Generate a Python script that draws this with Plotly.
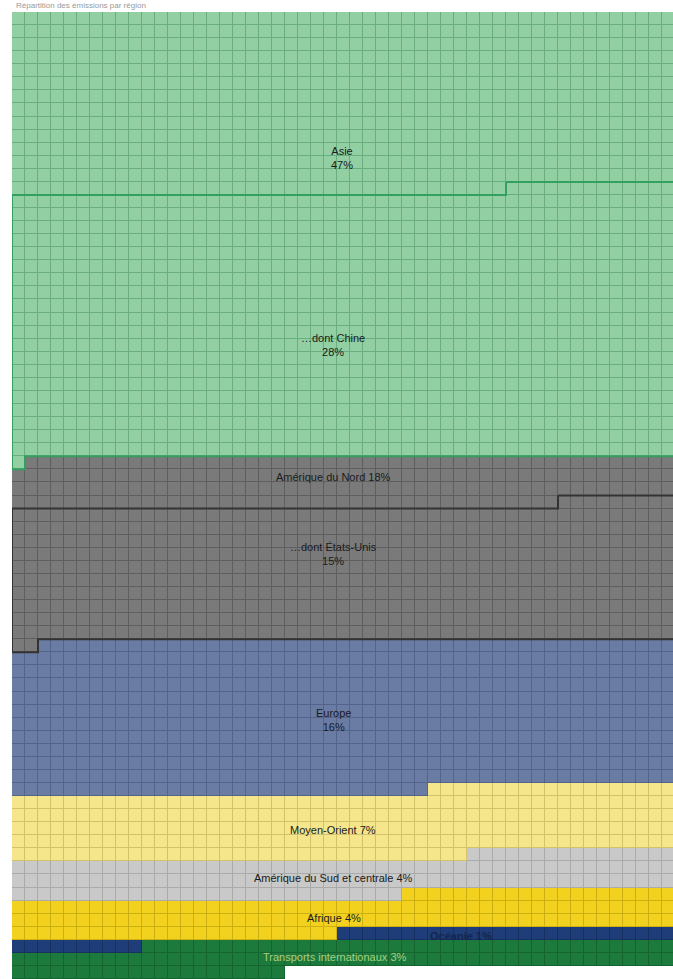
import numpy as np
import plotly.graph_objects as go

# ---------------- data (1 cell = one unit of emissions) ----------------
N_COLS = 51
N_ROWS = 74

regions = ["Asie", "Amérique du Nord", "Europe", "Moyen-Orient",
           "Amérique du Sud et centrale", "Afrique", "Océanie",
           "Transports internationaux"]
region_cells = [1735, 715, 591, 258, 148, 148, 36, 113]
region_shares = [47, 18, 16, 7, 4, 4, 1, 3]

subsets = ["Chine", "États-Unis"]
subset_parent = [0, 1]
subset_cells = [1034, 521]
subset_shares = [28, 15]

# ---------------- styles ----------------
fill_colors = ["#92cfa2", "#7a7a7a", "#6a7ca4", "#f5e68c", "#c9c9c9",
               "#f2d21e", "#1f3d78", "#1d7a3d", "#ffffff"]
grid_colors = ["#6aae7f", "#5e5e5e", "#53648b", "#d2c26c", "#aaaaaa",
               "#ccb012", "#17305f", "#15632f", "#ffffff"]
outline_colors = ["#34a060", "#333333"]

# ---------------- build cell matrix ----------------
EMPTY = len(regions)
flat = np.full(N_ROWS * N_COLS, EMPTY)
starts = np.concatenate([[0], np.cumsum(region_cells)[:-1]])
for i, (s, n) in enumerate(zip(starts, region_cells)):
    flat[s:s + n] = i
z = flat.reshape(N_ROWS, N_COLS)
xs = np.arange(N_COLS)
ys = np.arange(N_ROWS)


def discrete_scale(colors):
    n = len(colors)
    sc = []
    for i, c in enumerate(colors):
        sc.append([i / n, c])
        sc.append([(i + 1) / n, c])
    return sc


fig = go.Figure()
fig.add_trace(go.Heatmap(z=z, x=xs, y=ys, colorscale=discrete_scale(grid_colors),
                         zmin=-0.5, zmax=EMPTY + 0.5, showscale=False,
                         hoverinfo="skip"))
fig.add_trace(go.Heatmap(z=z, x=xs, y=ys, colorscale=discrete_scale(fill_colors),
                         zmin=-0.5, zmax=EMPTY + 0.5, showscale=False,
                         xgap=1, ygap=1, hoverinfo="skip"))


def range_outline(a, b):
    ra, ca = divmod(a, N_COLS)
    rb, cb = divmod(b, N_COLS)
    px = [ca - 0.5, N_COLS - 0.5, N_COLS - 0.5, cb - 0.5, cb - 0.5, -0.5, -0.5, ca - 0.5, ca - 0.5]
    py = [ra - 0.5, ra - 0.5, rb - 0.5, rb - 0.5, rb + 0.5, rb + 0.5, ra + 0.5, ra + 0.5, ra - 0.5]
    return px, py


for k, name in enumerate(subsets):
    p = subset_parent[k]
    end = starts[p] + region_cells[p]
    a = end - subset_cells[k]
    px, py = range_outline(int(a), int(end))
    fig.add_trace(go.Scatter(x=px, y=py, mode="lines",
                             line=dict(color=outline_colors[k], width=2),
                             hoverinfo="skip", showlegend=False))

# ---------------- labels ----------------
FONT = "Liberation Sans, Arial, sans-serif"
labels = [
    ("Asie<br>%d%%" % region_shares[0], 24.9, 10.7, "#1a1a1a"),
    ("…dont %s<br>%d%%" % (subsets[0], subset_shares[0]), 24.2, 25.0, "#1a1a1a"),
    ("%s %d%%" % (regions[1], region_shares[1]), 24.2, 35.1, "#1a1a1a"),
    ("…dont %s<br>%d%%" % (subsets[1], subset_shares[1]), 24.2, 41.0, "#1a1a1a"),
    ("%s<br>%d%%" % (regions[2], region_shares[2]), 24.2, 53.7, "#1a1a1a"),
    ("%s %d%%" % (regions[3], region_shares[3]), 24.2, 62.1, "#1a1a1a"),
    ("%s %d%%" % (regions[4], region_shares[4]), 24.2, 65.8, "#1a1a1a"),
    ("%s %d%%" % (regions[5], region_shares[5]), 24.3, 68.8, "#1a1a1a"),
    ("<b>%s %d%%</b>" % (regions[6], region_shares[6]), 34.0, 70.2, "#14264f"),
    ("%s %d%%" % (regions[7], region_shares[7]), 24.3, 71.8, "#a9cf7f"),
]
for text, lx, ly, col in labels:
    fig.add_annotation(x=lx, y=ly, xref="x", yref="y", text=text, showarrow=False,
                       font=dict(family=FONT, size=11, color=col),
                       align="center")

fig.add_annotation(x=0.005, y=1 + 11.5 / 967, xref="paper", yref="paper",
                   text="Répartition des émissions par région",
                   showarrow=False, xanchor="left", yanchor="top", borderpad=0,
                   font=dict(family=FONT, size=8, color="#999999"))

fig.update_layout(
    width=673, height=979,
    margin=dict(l=12, r=0, t=12, b=0),
    paper_bgcolor="white", plot_bgcolor="white",
    showlegend=False,
    xaxis=dict(range=[-0.5, -0.5 + 661 / 13], visible=False, fixedrange=True),
    yaxis=dict(range=[N_ROWS - 0.5, -0.5], visible=False, fixedrange=True),
)

fig.write_html("out.html")
